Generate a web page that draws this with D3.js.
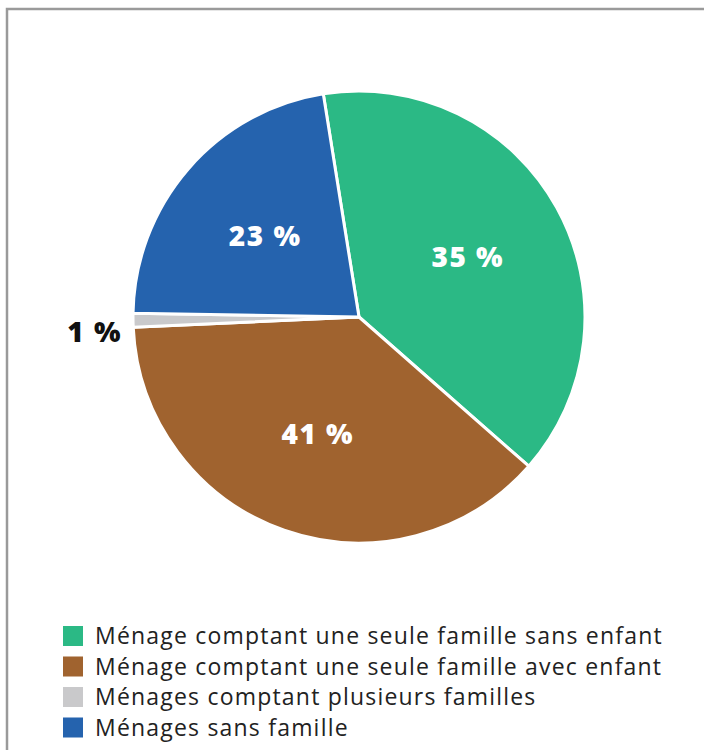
<!DOCTYPE html>
<html lang="fr">
<head>
    <meta charset="UTF-8">
    <title>Types de ménages</title>
    <script src="https://d3js.org/d3.v7.min.js"></script>
    <style>
        body { margin: 0; background: #fff; }
        .pct { font-family: "Open Sans", sans-serif; font-weight: 800; font-size: 28px; letter-spacing: 1.5px; }
        .legend-label { font-family: "Open Sans", sans-serif; font-weight: 400; font-size: 23px; letter-spacing: 1.2px; fill: #222; }
    </style>
</head>
<body>
    <div id="chart"></div>

    <script>
        // Catégories et valeurs
        const categories = [
            "Ménage comptant une seule famille sans enfant",
            "Ménage comptant une seule famille avec enfant",
            "Ménages comptant plusieurs familles",
            "Ménages sans famille"
        ];
        // taille des parts telle que dessinée sur l'image (en %)
        const sliceShares = [39, 37.8, 1, 22.2];
        // étiquettes imprimées sur le graphique
        const pctLabels = ["35 %", "41 %", "1 %", "23 %"];
        const colors = ["#2bb985", "#a0632f", "#c9c9cb", "#2563ae"];

        const width = 704, height = 750;
        const cx = 359, cy = 317, radius = 226;

        const svg = d3.select("#chart")
            .append("svg")
            .attr("width", width)
            .attr("height", height);

        // Cadre
        svg.append("rect")
            .attr("x", 7).attr("y", 9)
            .attr("width", width + 20).attr("height", height + 20)
            .attr("fill", "none")
            .attr("stroke", "#9a9a9a")
            .attr("stroke-width", 2.5);

        const data = categories.map((c, i) => ({
            cat: c, value: sliceShares[i], label: pctLabels[i], color: colors[i]
        }));

        const start = -9.1 * Math.PI / 180;
        const pie = d3.pie()
            .sort(null)
            .value(d => d.value)
            .startAngle(start)
            .endAngle(start + 2 * Math.PI);

        const arc = d3.arc().innerRadius(0).outerRadius(radius);
        const labelArc = d3.arc().innerRadius(radius * 0.55).outerRadius(radius * 0.55);
        const outerArc = d3.arc().innerRadius(radius * 1.17).outerRadius(radius * 1.17);

        const g = svg.append("g").attr("transform", `translate(${cx},${cy})`);

        const arcs = pie(data);

        g.selectAll("path")
            .data(arcs)
            .join("path")
            .attr("d", arc)
            .attr("fill", d => d.data.color)
            .attr("stroke", "#fff")
            .attr("stroke-width", 3)
            .attr("stroke-linejoin", "round");

        // Étiquettes (la petite part a son étiquette à l'extérieur, un peu plus bas)
        g.selectAll("text.pct")
            .data(arcs)
            .join("text")
            .attr("class", "pct")
            .attr("transform", d => {
                const small = d.data.value < 5;
                const p = small ? outerArc.centroid(d) : labelArc.centroid(d);
                return `translate(${p[0]},${p[1] + (small ? 11 : 0)})`;
            })
            .attr("text-anchor", "middle")
            .attr("dy", "0.36em")
            .attr("fill", d => d.data.value < 5 ? "#111" : "#fff")
            .text(d => d.data.label);

        // Légende
        const legend = svg.append("g").attr("transform", "translate(63,626)");
        const row = legend.selectAll("g")
            .data(data)
            .join("g")
            .attr("transform", (d, i) => `translate(0,${i * 30.5})`);

        row.append("rect")
            .attr("width", 20).attr("height", 20)
            .attr("fill", d => d.color);

        row.append("text")
            .attr("class", "legend-label")
            .attr("x", 32)
            .attr("y", 10)
            .attr("dy", "0.35em")
            .text(d => d.cat);
    </script>
</body>
</html>
